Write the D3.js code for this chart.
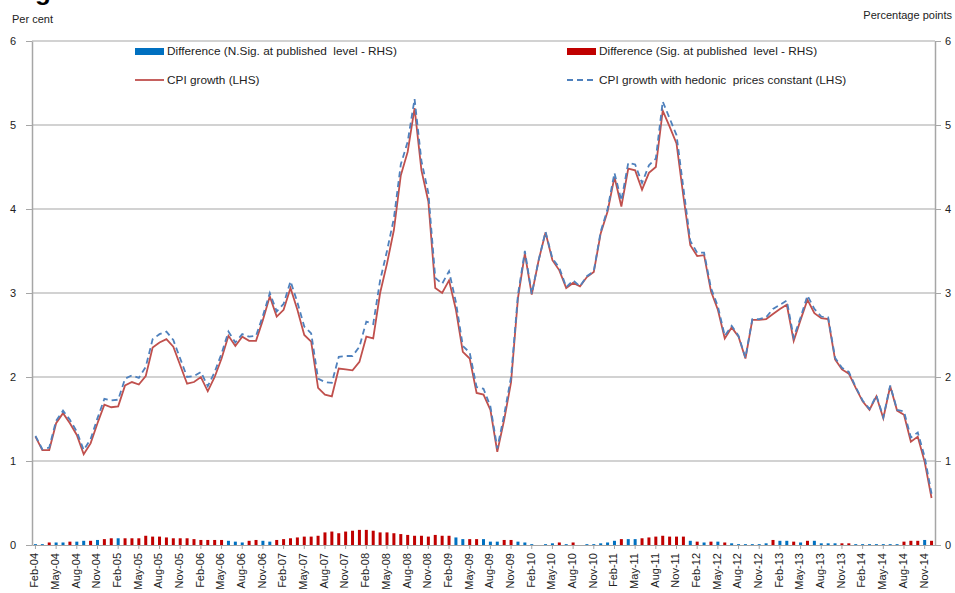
<!DOCTYPE html>
<html>
<head>
<meta charset="utf-8">
<script src="https://cdn.jsdelivr.net/npm/d3@7"></script>
<style>
  body { margin: 0; background: #fff; }
  svg { display: block; font-family: "Liberation Sans", Arial, sans-serif; }
  .axis path, .axis line { stroke: #a6a6a6; }
  .axis text { fill: #222; font-size: 11px; }
  .legend text { fill: #222; font-size: 11.8px; white-space: pre; }
</style>
</head>
<body>
<svg id="chart" width="955" height="593"></svg>
<script>
// monthly categories Feb-04 .. Dec-14
const months = d3.timeMonths(new Date(2004, 1, 1), new Date(2015, 0, 1));

// CPI growth, per cent (LHS)
const cpi = [
  1.29, 1.13, 1.13, 1.45, 1.57, 1.45, 1.31, 1.08, 1.21, 1.45, 1.67,
  1.64, 1.65, 1.90, 1.94, 1.91, 2.01, 2.35, 2.41, 2.45, 2.36, 2.14, 1.92,
  1.94, 2.00, 1.83, 2.00, 2.22, 2.49, 2.37, 2.48, 2.43, 2.43, 2.68, 2.96,
  2.72, 2.80, 3.06, 2.80, 2.50, 2.42, 1.87, 1.79, 1.77, 2.10, 2.09, 2.08,
  2.18, 2.48, 2.46, 3.00, 3.35, 3.75, 4.40, 4.68, 5.20, 4.46, 4.09, 3.06,
  3.00, 3.15, 2.80, 2.30, 2.22, 1.81, 1.79, 1.61, 1.11, 1.49, 1.94, 2.94,
  3.47, 2.98, 3.39, 3.72, 3.39, 3.27, 3.06, 3.12, 3.08, 3.19, 3.25, 3.71,
  3.97, 4.38, 4.03, 4.48, 4.46, 4.23, 4.43, 4.50, 5.17, 4.98, 4.78, 4.15,
  3.57, 3.44, 3.45, 3.02, 2.80, 2.46, 2.59, 2.48, 2.22, 2.68, 2.68, 2.69,
  2.75, 2.81, 2.86, 2.43, 2.68, 2.92, 2.76, 2.70, 2.69, 2.21, 2.09, 2.04,
  1.87, 1.71, 1.61, 1.77, 1.51, 1.89, 1.60, 1.55, 1.23, 1.29, 0.99, 0.56
];

// CPI growth with hedonic prices constant (LHS)
const hedonic = [
  1.30, 1.14, 1.16, 1.48, 1.60, 1.49, 1.35, 1.13, 1.26, 1.51, 1.74,
  1.72, 1.73, 1.98, 2.02, 1.99, 2.12, 2.45, 2.51, 2.54, 2.44, 2.22, 2.00,
  2.01, 2.06, 1.89, 2.06, 2.28, 2.54, 2.41, 2.51, 2.48, 2.49, 2.73, 3.00,
  2.78, 2.87, 3.14, 2.89, 2.60, 2.52, 1.98, 1.94, 1.93, 2.24, 2.25, 2.25,
  2.36, 2.66, 2.63, 3.15, 3.50, 3.89, 4.53, 4.80, 5.31, 4.57, 4.19, 3.18,
  3.11, 3.26, 2.89, 2.37, 2.29, 1.88, 1.86, 1.65, 1.15, 1.55, 2.00, 2.98,
  3.50, 2.99, 3.39, 3.73, 3.41, 3.30, 3.07, 3.15, 3.08, 3.20, 3.26, 3.73,
  4.00, 4.43, 4.10, 4.55, 4.53, 4.31, 4.52, 4.60, 5.28, 5.08, 4.88, 4.25,
  3.62, 3.48, 3.48, 3.06, 2.84, 2.49, 2.61, 2.49, 2.23, 2.69, 2.69, 2.71,
  2.81, 2.86, 2.91, 2.47, 2.71, 2.97, 2.81, 2.72, 2.71, 2.23, 2.11, 2.06,
  1.88, 1.72, 1.62, 1.78, 1.52, 1.90, 1.61, 1.59, 1.28, 1.34, 1.05, 0.61
];

// difference, percentage points (RHS)
const diff = [
  0.01, 0.01, 0.03, 0.03, 0.03, 0.04, 0.04, 0.05, 0.05, 0.06, 0.07,
  0.08, 0.08, 0.08, 0.08, 0.08, 0.11, 0.10, 0.10, 0.09, 0.08, 0.08, 0.08,
  0.07, 0.06, 0.06, 0.06, 0.06, 0.05, 0.04, 0.03, 0.05, 0.06, 0.05, 0.04,
  0.06, 0.07, 0.08, 0.09, 0.10, 0.10, 0.11, 0.15, 0.16, 0.14, 0.16, 0.17,
  0.18, 0.18, 0.17, 0.15, 0.15, 0.14, 0.13, 0.12, 0.11, 0.11, 0.10, 0.12,
  0.11, 0.11, 0.09, 0.07, 0.07, 0.07, 0.07, 0.04, 0.04, 0.06, 0.06, 0.04,
  0.03, 0.01, 0.00, 0.01, 0.02, 0.03, 0.01, 0.03, 0.00, 0.01, 0.01, 0.02,
  0.03, 0.05, 0.07, 0.07, 0.07, 0.08, 0.09, 0.10, 0.11, 0.10, 0.10, 0.10,
  0.05, 0.04, 0.03, 0.04, 0.04, 0.03, 0.02, 0.01, 0.01, 0.01, 0.01, 0.02,
  0.06, 0.05, 0.05, 0.04, 0.03, 0.05, 0.05, 0.02, 0.02, 0.02, 0.02, 0.02,
  0.01, 0.01, 0.01, 0.01, 0.01, 0.01, 0.01, 0.04, 0.05, 0.05, 0.06, 0.05
];

// 1 = significant at published level, 0 = not significant
const sig = [
  0, 0, 1, 0, 0, 1, 0, 0, 1, 0, 1,
  1, 0, 1, 1, 1, 1, 1, 1, 1, 1, 1, 1,
  1, 1, 1, 1, 1, 0, 0, 0, 1, 1, 0, 0,
  1, 1, 1, 1, 1, 1, 1, 1, 1, 1, 1, 1,
  1, 1, 1, 1, 1, 1, 1, 1, 1, 1, 1, 1,
  1, 1, 0, 0, 1, 1, 0, 0, 0, 1, 1, 0,
  0, 0, 0, 0, 0, 1, 0, 1, 0, 0, 0, 0,
  0, 0, 1, 0, 0, 1, 1, 1, 1, 1, 1, 1,
  0, 1, 0, 1, 0, 1, 0, 0, 0, 0, 0, 0,
  1, 0, 0, 1, 0, 1, 0, 0, 0, 0, 1, 1,
  0, 0, 0, 0, 0, 0, 0, 1, 1, 1, 0, 1
];

const yTicks = [0, 1, 2, 3, 4, 5, 6];

const legendItems = [
  { label: "Difference (N.Sig. at published  level - RHS)", kind: "bar", color: "#0070c0", col: 0, row: 0 },
  { label: "Difference (Sig. at published  level - RHS)", kind: "bar", color: "#c00000", col: 1, row: 0 },
  { label: "CPI growth (LHS)", kind: "line", color: "#c0504d", col: 0, row: 1 },
  { label: "CPI growth with hedonic  prices constant (LHS)", kind: "dash", color: "#4f81bd", col: 1, row: 1 }
];

const svg = d3.select("#chart");
const plotL = 32, plotR = 935, plotT = 41, plotB = 545;

const x = d3.scaleBand().domain(months).range([plotL, plotR]).padding(0);
const y = d3.scaleLinear().domain([0, 6]).range([plotB, plotT]);
const yR = d3.scaleLinear().domain([0, 6]).range([plotB, plotT]);
const fmt = d3.timeFormat("%b-%y");
const cx = i => x(months[i]) + x.bandwidth() / 2;

// title, cut off by the top edge (only the descender shows)
svg.append("text").attr("x", 12).attr("y", 0)
  .style("font-size", "26px").style("font-weight", "bold").text("Figure 1");

svg.append("text").attr("x", 12).attr("y", 23).style("font-size", "11px").attr("fill", "#222").text("Per cent");
svg.append("text").attr("x", 952).attr("y", 19).attr("text-anchor", "end")
  .style("font-size", "11px").attr("fill", "#222").text("Percentage points");

// gridlines
svg.append("g").selectAll("line").data(yTicks.slice(1)).join("line")
  .attr("x1", plotL).attr("x2", plotR)
  .attr("y1", d => y(d)).attr("y2", d => y(d))
  .attr("stroke", "#a6a6a6").attr("stroke-width", 1.2);

// axes
const gl = svg.append("g").attr("class", "axis").attr("transform", `translate(${plotL},0)`)
  .call(d3.axisLeft(y).tickValues(yTicks).tickFormat(d3.format("d"))
    .tickSize(6).tickPadding(10).tickSizeOuter(0));
const gr = svg.append("g").attr("class", "axis").attr("transform", `translate(${plotR},0)`)
  .call(d3.axisRight(yR).tickValues(yTicks).tickFormat(d3.format("d"))
    .tickSize(6).tickPadding(4).tickSizeOuter(0));
[gl, gr].forEach(g => g.selectAll("path").attr("stroke-width", 1.5));

const tickMonths = months.filter((d, i) => i % 3 === 0);
const gx = svg.append("g").attr("class", "axis").attr("transform", `translate(0,${plotB})`)
  .call(d3.axisBottom(x).tickValues(tickMonths).tickFormat(fmt).tickSize(4).tickSizeOuter(0));
gx.selectAll("text")
  .attr("transform", "rotate(-90)")
  .attr("text-anchor", "end")
  .attr("x", -8).attr("y", -1).attr("dy", "0.35em");

// difference bars (RHS)
svg.append("g").selectAll("rect").data(diff).join("rect")
  .attr("x", (d, i) => cx(i) - 1.5)
  .attr("width", 3)
  .attr("y", d => yR(d))
  .attr("height", d => yR(0) - yR(d))
  .attr("fill", (d, i) => sig[i] ? "#c00000" : "#0070c0");

// lines (LHS)
const line = d3.line().x((d, i) => cx(i)).y(d => y(d));
svg.append("path").datum(cpi).attr("d", line)
  .attr("fill", "none").attr("stroke", "#c0504d").attr("stroke-width", 1.8);
svg.append("path").datum(hedonic).attr("d", line)
  .attr("fill", "none").attr("stroke", "#4f81bd").attr("stroke-width", 1.8)
  .attr("stroke-dasharray", "6,4");

// legend
const lg = svg.append("g").attr("class", "legend");
const colX = [135, 567], rowY = [51, 80];
legendItems.forEach(it => {
  const gx0 = colX[it.col], gy0 = rowY[it.row];
  if (it.kind === "bar") {
    lg.append("rect").attr("x", gx0).attr("y", gy0 - 3).attr("width", 29).attr("height", 7).attr("fill", it.color);
  } else {
    lg.append("line").attr("x1", gx0).attr("x2", gx0 + 29).attr("y1", gy0).attr("y2", gy0)
      .attr("stroke", it.color).attr("stroke-width", 1.8)
      .attr("stroke-dasharray", it.kind === "dash" ? "6,4" : null);
  }
  lg.append("text").attr("x", gx0 + 32).attr("y", gy0).attr("dy", "0.35em").text(it.label);
});
</script>
</body>
</html>
